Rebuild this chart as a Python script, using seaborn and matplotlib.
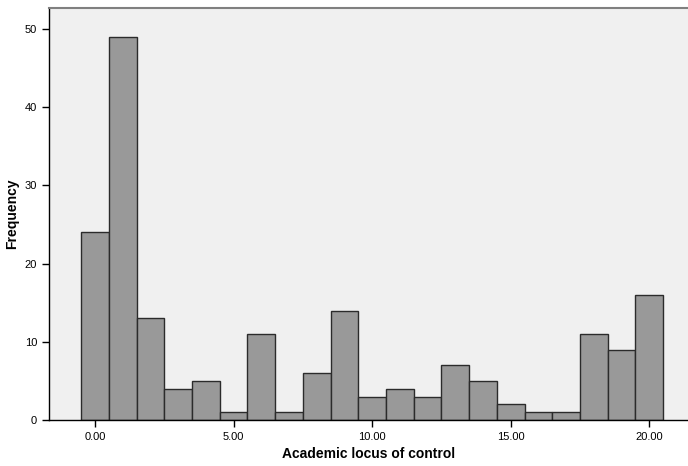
import matplotlib
matplotlib.use("Agg")
import matplotlib.pyplot as plt
import pandas as pd
import seaborn as sns

# Academic locus of control scores and their frequencies
scores = list(range(21))
counts = [24, 49, 13, 4, 5, 1, 11, 1, 6, 14, 3, 4, 3, 7, 5, 2, 1, 1, 11, 9, 16]

df = pd.DataFrame({"score": scores, "count": counts})

sns.set_style("ticks")
plt.rcParams["font.family"] = ["Liberation Sans", "DejaVu Sans"]

fig = plt.figure(figsize=(6.88, 4.66), dpi=100)
ax = fig.add_axes([0.0712, 0.0987, 0.9288, 0.8843])
ax.set_facecolor("#F0F0F0")

sns.histplot(data=df, x="score", weights="count", binwidth=1, binrange=(-0.5, 20.5),
             color="#999999", alpha=1, edgecolor="#2b2b2b", linewidth=1.0, ax=ax)

ax.set_xlim(-1.66, 21.4)
ax.set_ylim(0, 52.7)
ax.set_xticks([0, 5, 10, 15, 20])
ax.set_xticklabels(["0.00", "5.00", "10.00", "15.00", "20.00"])
ax.set_yticks([0, 10, 20, 30, 40, 50])
ax.tick_params(axis="both", labelsize=8, length=5, width=1, colors="black")
ax.set_xlabel("Academic locus of control", fontsize=10, fontweight="bold", color="black")
ax.set_ylabel("Frequency", fontsize=10, fontweight="bold", color="black")

for side in ["left", "bottom"]:
    ax.spines[side].set_color("black")
    ax.spines[side].set_linewidth(1)
ax.spines["top"].set_visible(True)
ax.spines["top"].set_color("#808080")
ax.spines["top"].set_linewidth(1.5)
ax.spines["right"].set_visible(False)

plt.savefig("out.png", dpi=100)
